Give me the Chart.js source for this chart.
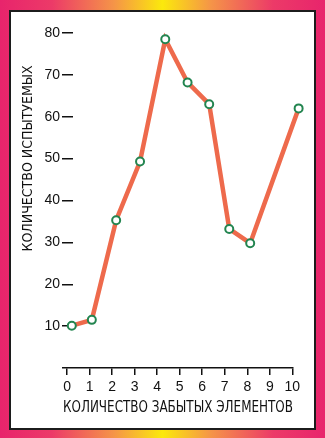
<!DOCTYPE html>
<html>
<head>
<meta charset="utf-8">
<script src="https://cdn.jsdelivr.net/npm/chart.js@4.4.1/dist/chart.umd.min.js"></script>
<style>
  html, body { margin: 0; padding: 0; }
  #frame {
    position: relative; width: 325px; height: 438px; overflow: hidden;
    background: linear-gradient(90deg, #e8246c 0%, #ec3a68 16%, #f59448 35%, #fbe90c 50%, #f59448 65%, #ec3a68 84%, #e8246c 100%);
  }
  #inner {
    position: absolute; left: 9px; top: 10px; width: 307px; height: 420px;
    box-sizing: border-box; border: 2px solid #1c1c1c; background: #fff;
  }
  #c { position: absolute; left: 0; top: 0; }
</style>
</head>
<body>
<div id="frame">
  <div id="inner"></div>
  <canvas id="c" width="325" height="438"></canvas>
</div>
<script>
// Data
const forgottenElements = [0.21, 1.1, 2.18, 3.24, 4.36, 5.35, 6.31, 7.2, 8.13, 10.28];
const subjectCount      = [10.1, 11.5, 35.3, 49.3, 78.5, 68.2, 63.0, 33.2, 29.8, 62.0];
const xTickLabels = [0, 1, 2, 3, 4, 5, 6, 7, 8, 9, 10];
const yTickLabels = [10, 20, 30, 40, 50, 60, 70, 80];
const xTitle = 'КОЛИЧЕСТВО ЗАБЫТЫХ ЭЛЕМЕНТОВ';
const yTitle = 'КОЛИЧЕСТВО ИСПЫТУЕМЫХ';

const points = forgottenElements.map((x, i) => ({ x: x, y: subjectCount[i] }));
const narrow = "'Liberation Sans Narrow', 'Arial Narrow', 'DejaVu Sans Condensed', 'Liberation Sans', sans-serif";

const shiftYAxis = {
  id: 'shiftYAxis',
  afterLayout(chart) {
    const y = chart.scales.y;
    y.left += 10; y.right += 10;
    // move title centre up (title only uses top/bottom)
    y.top = 33; y.bottom = 284;
  }
};

new Chart(document.getElementById('c'), {
  type: 'line',
  data: {
    datasets: [{
      data: points,
      borderColor: '#ee6a4c',
      borderWidth: 4.5,
      pointRadius: 4,
      pointBorderWidth: 2,
      pointBackgroundColor: '#ffffff',
      pointBorderColor: '#238550',
      tension: 0,
      clip: false
    }]
  },
  options: {
    responsive: false,
    devicePixelRatio: 1,
    animation: false,
    layout: { padding: { left: 0, right: 32, top: 33, bottom: 0 } },
    plugins: { legend: { display: false }, tooltip: { enabled: false } },
    scales: {
      x: {
        type: 'linear',
        min: -0.18, max: 10.03,
        afterBuildTicks: s => { s.ticks = xTickLabels.map(v => ({ value: v })); },
        afterFit: s => { s.height = 70; },
        grid: { drawOnChartArea: false, drawTicks: true, tickLength: 7, color: '#111', lineWidth: 1.5 },
        border: { display: true, color: '#111', width: 1.5 },
        ticks: { color: '#111', padding: 4, font: { family: "'Liberation Sans', Arial, sans-serif", size: 14 }, maxRotation: 0 },
        title: { display: true, text: xTitle, color: '#111', font: { family: narrow, size: 16 }, padding: { top: 0, bottom: 21 } }
      },
      y: {
        type: 'linear',
        min: 0, max: 80,
        afterBuildTicks: s => { s.ticks = yTickLabels.map(v => ({ value: v })); },
        afterFit: s => { s.width = 63; },
        grid: { drawOnChartArea: false, drawTicks: true, tickLength: 11, color: '#111', lineWidth: 1.5 },
        border: { display: false },
        ticks: { color: '#111', padding: 2, font: { family: "'Liberation Sans', Arial, sans-serif", size: 14 } },
        title: { display: true, text: yTitle, color: '#111', font: { family: narrow, size: 14 }, padding: { top: 10, bottom: 0 } }
      }
    }
  },
  plugins: [shiftYAxis]
});
</script>
</body>
</html>
